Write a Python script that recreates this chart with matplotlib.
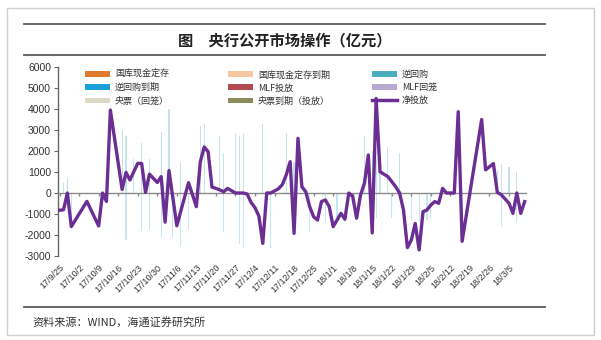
import matplotlib
matplotlib.use("Agg")
import matplotlib.pyplot as plt
from matplotlib.patches import Patch, Rectangle
from matplotlib.lines import Line2D
import pandas as pd

CJK = ['Noto Sans CJK SC', 'DejaVu Sans']
plt.rcParams['font.family'] = ['Liberation Sans', 'Noto Sans CJK SC', 'DejaVu Sans']

# ---- data -------------------------------------------------------------
title = "图　央行公开市场操作（亿元）"
source = "资料来源：WIND，海通证券研究所"

tick_labels = ['17/9/25', '17/10/2', '17/10/9', '17/10/16', '17/10/23', '17/10/30',
               '17/11/6', '17/11/13', '17/11/20', '17/11/27', '17/12/4', '17/12/11',
               '17/12/18', '17/12/25', '18/1/1', '18/1/8', '18/1/15', '18/1/22',
               '18/1/29', '18/2/5', '18/2/12', '18/2/19', '18/2/26', '18/3/5']

legend_names = ['国库现金定存', '逆回购到期', '央票（回笼）',
                '国库现金定存到期', 'MLF投放', '央票到期（投放）',
                '逆回购', 'MLF回笼', '净投放']
legend_colors = ['#e07a2f', '#1ba1d8', '#dcd9c6',
                 '#f6c7a0', '#b24a4f', '#8b8b5b',
                 '#4aaebf', '#b7a9cf', '#6b2f93']

# reverse repo injections (亿元)
repo_dates = ['2017-09-26', '2017-09-27', '2017-10-17', '2017-10-18', '2017-10-20',
              '2017-10-24', '2017-10-26', '2017-10-31', '2017-11-02', '2017-11-07',
              '2017-11-14', '2017-11-15', '2017-11-21', '2017-11-22', '2017-11-27',
              '2017-11-28', '2017-11-29', '2017-12-06', '2017-12-14', '2017-12-18',
              '2018-01-11', '2018-01-15', '2018-01-16', '2018-01-17', '2018-01-19',
              '2018-01-24', '2018-02-28', '2018-03-01', '2018-03-05', '2018-03-07']
repo_values = [500, 700, 3000, 2700, 1600,
               2400, 1600, 2900, 4000, 1500,
               3200, 3300, 2700, 1900, 2800,
               2700, 2800, 3300, 2850, 1500,
               2700, 2000, 1600, 1600, 2200,
               1900, 1100, 1400, 1250, 1000]

# reverse repo maturities (亿元)
mature_dates = ['2017-09-28', '2017-10-18', '2017-10-24', '2017-10-26', '2017-10-31',
                '2017-11-03', '2017-11-07', '2017-11-09', '2017-11-22', '2017-11-28',
                '2017-11-29', '2017-12-08', '2017-12-22', '2017-12-28', '2018-01-02',
                '2018-01-16', '2018-01-22', '2018-01-29', '2018-01-31', '2018-02-02',
                '2018-02-05', '2018-03-01', '2018-03-07']
mature_values = [-1370, -2240, -1800, -1770, -2100,
                 -2100, -2540, -1700, -1850, -2450,
                 -2600, -2600, -1880, -1400, -1300,
                 -1200, -1200, -1300, -1400, -1300,
                 -1200, -1600, -1400]

# net injection (亿元)
net_dates = ['2017-09-25', '2017-09-26', '2017-09-27', '2017-09-28', '2017-10-04',
             '2017-10-09', '2017-10-10', '2017-10-11', '2017-10-12', '2017-10-17',
             '2017-10-18', '2017-10-19', '2017-10-23', '2017-10-24', '2017-10-25',
             '2017-10-26', '2017-10-30', '2017-10-31', '2017-11-01', '2017-11-02',
             '2017-11-06', '2017-11-09', '2017-11-13', '2017-11-14', '2017-11-15',
             '2017-11-16', '2017-11-17', '2017-11-20', '2017-11-21', '2017-11-22',
             '2017-11-23', '2017-11-24', '2017-11-27', '2017-11-29', '2017-11-30',
             '2017-12-01', '2017-12-04', '2017-12-05', '2017-12-06', '2017-12-07',
             '2017-12-08', '2017-12-11', '2017-12-12', '2017-12-13', '2017-12-14',
             '2017-12-15', '2017-12-18', '2017-12-19', '2017-12-20', '2017-12-21',
             '2017-12-22', '2017-12-25', '2017-12-26', '2017-12-27', '2017-12-28',
             '2017-12-29', '2018-01-01', '2018-01-02', '2018-01-03', '2018-01-04',
             '2018-01-05', '2018-01-08', '2018-01-09', '2018-01-10', '2018-01-11',
             '2018-01-12', '2018-01-15', '2018-01-16', '2018-01-17', '2018-01-19',
             '2018-01-23', '2018-01-24', '2018-01-25', '2018-01-26', '2018-01-29',
             '2018-01-30', '2018-01-31', '2018-02-01', '2018-02-02', '2018-02-05',
             '2018-02-06', '2018-02-07', '2018-02-08', '2018-02-09', '2018-02-12',
             '2018-02-13', '2018-02-14', '2018-02-15', '2018-02-22', '2018-02-23',
             '2018-02-27', '2018-02-28', '2018-03-01', '2018-03-05', '2018-03-06',
             '2018-03-07', '2018-03-08', '2018-03-09']
net_values = [-820, -800, 0, -1600, -400,
              -1570, 0, -400, 3950, 170,
              980, 620, 1410, 1410, 30,
              900, 500, 780, -1390, 1070,
              -1560, 490, -650, 1470, 2190,
              1970, 280, 220, 150, 60,
              220, 110, 0, 0, -50,
              -450, -700, -1100, -2400, 0,
              0, 100, 200, 400, 860,
              1490, -1920, 2600, 300, 60,
              -650, -1130, -1290, -410, -330,
              -650, -1600, -1290, -970, -1250,
              0, -160, -1200, -100, 460,
              1810, -1900, 4500, 1010, 780,
              300, 0, -810, -2600, -2240,
              -1450, -2710, -890, -810, -570,
              -410, -490, 220, 0, 0,
              0, 3870, -2300, 3500, 1100,
              1400, 30, -80, -490, -970,
              0, -970, -410]

# ---- figure -----------------------------------------------------------
fig = plt.figure(figsize=(6.01, 3.40), dpi=100)
fig.patch.set_facecolor('white')

# outer frame
fig.add_artist(Rectangle((7 / 601, 1 - 335 / 340), 587 / 601, 327 / 340,
                         transform=fig.transFigure, fill=False,
                         edgecolor='#cfcfcf', lw=1.0))
# header / footer rules
for yy in (24, 55, 307):
    fig.add_artist(Line2D([24 / 601, 545 / 601], [1 - yy / 340, 1 - yy / 340],
                          transform=fig.transFigure, color='#5a5a5a', lw=1.3))

fig.text(285 / 601, 1 - 40 / 340, title, ha='center', va='center',
         fontsize=11, fontweight='bold', color='#222222', family=CJK)
fig.text(32 / 601, 1 - 322 / 340, source, ha='left', va='center',
         fontsize=8, color='#333333', family=CJK)

ax = fig.add_axes([58 / 601, 1 - 256 / 340, 469 / 601, 189 / 340])
days = pd.bdate_range('2017-09-25', '2018-03-09')

repo_x = days.get_indexer(pd.to_datetime(repo_dates))
mature_x = days.get_indexer(pd.to_datetime(mature_dates))
net_x = days.get_indexer(pd.to_datetime(net_dates))

ax.bar(repo_x, repo_values, width=0.3, color='#4aaebf', alpha=0.32, lw=0, zorder=2)
ax.bar(mature_x, mature_values, width=0.3, color='#1ba1d8', alpha=0.25, lw=0, zorder=2)
ax.axhline(0, color='#8a8a8a', lw=1.0, zorder=3)
ax.plot(net_x, net_values, color='#6b2f93', lw=2.4, solid_joinstyle='round', zorder=4)

tick_pos = list(range(0, len(days), 5))[:len(tick_labels)]
ax.plot(tick_pos, [0] * len(tick_pos), ls='none', marker=3, ms=2.5,
        color='#8a8a8a', zorder=3)

ax.set_xlim(-0.4, 119.6)
ax.set_ylim(-3000, 6000)
ax.set_yticks(range(-3000, 6001, 1000))
ax.set_yticklabels([str(v) for v in range(-3000, 6001, 1000)])
ax.set_xticks(tick_pos)
ax.set_xticklabels(tick_labels, rotation=45, ha='right', va='top',
                   rotation_mode='anchor')
ax.tick_params(axis='x', length=0, pad=5, labelsize=6.5, labelcolor='#333333')
ax.tick_params(axis='y', length=3, width=0.8, color='#666666', pad=2,
               labelsize=7.5, labelcolor='#333333')
for s in ('top', 'right', 'bottom'):
    ax.spines[s].set_visible(False)
ax.spines['left'].set_color('#666666')
ax.spines['left'].set_linewidth(1.0)
ax.set_facecolor('none')

# legend: three columns placed independently
handles = []
for name, col in zip(legend_names, legend_colors):
    if name == '净投放':
        handles.append(Line2D([], [], color=col, lw=2.5))
    else:
        handles.append(Patch(facecolor=col, edgecolor='none'))

col_x = [85, 228, 372]
for c in range(3):
    lg = fig.legend(handles[c * 3:(c + 1) * 3], legend_names[c * 3:(c + 1) * 3],
                    loc='upper left', bbox_to_anchor=(col_x[c] / 601, 1 - 70 / 340),
                    bbox_transform=fig.transFigure, frameon=False,
                    prop={'family': CJK, 'size': 6.5}, handlelength=2.8,
                    handleheight=0.6, handletextpad=0.5, labelspacing=0.45,
                    borderpad=0, borderaxespad=0)
    for t in lg.get_texts():
        t.set_color('#333333')

fig.savefig('out.png', dpi=100, facecolor='white')
